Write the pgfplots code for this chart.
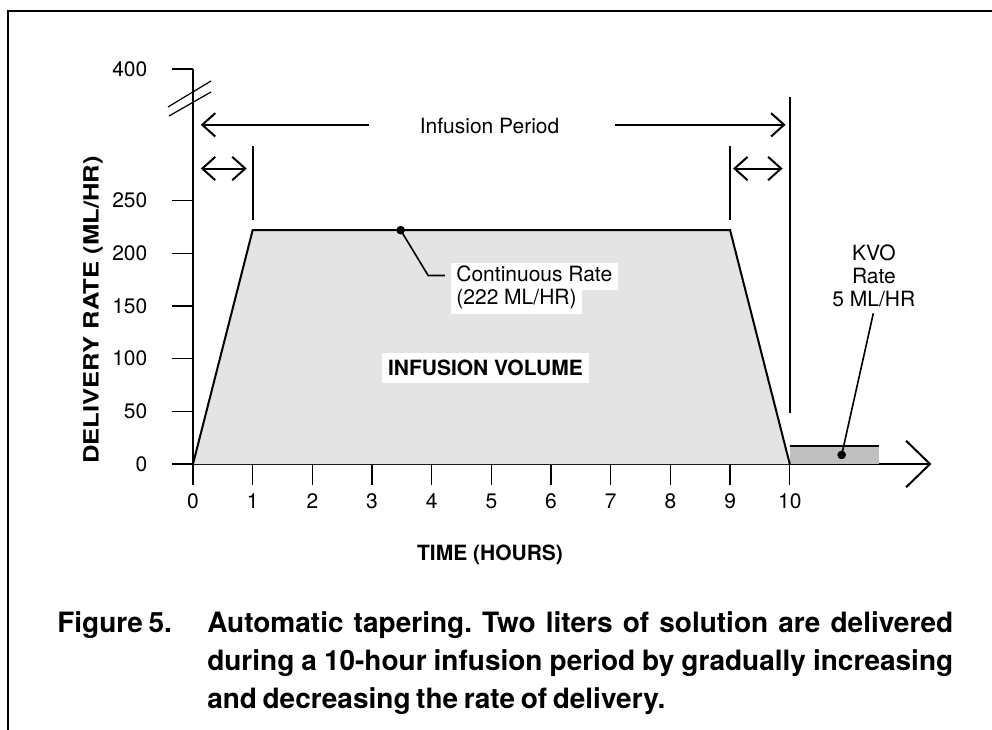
\documentclass[border=0pt]{standalone}
\usepackage{fontspec}
\setmainfont{TeX Gyre Heros}
\usepackage{pgfplots}
\pgfplotsset{compat=1.18}
\usetikzlibrary{arrows.meta}
\definecolor{vol}{RGB}{228,228,228}
\definecolor{kvo}{RGB}{192,192,192}
\newcommand\fs{\fontsize{15.75pt}{17.5pt}\selectfont}
\newcommand\capfs{\fontsize{21pt}{28.5pt}\selectfont\bfseries\frenchspacing\spaceskip=0.2em plus 1em minus 0.1em\relax}
\begin{document}
\begin{tikzpicture}
\begin{axis}[
  at={(144.75pt,-348pt)}, anchor=south west,
  scale only axis, width=552.75pt, height=296.25pt,
  xmin=0, xmax=12.35, ymin=0, ymax=375,
  axis lines=left,
  x axis line style={-, line width=2pt},
  y axis line style={-, line width=1.6pt},
  xtick={0,1,...,10}, ytick={0,50,100,150,200,250,375},
  yticklabels={0,50,100,150,200,250,400},
  tick align=outside, major tick length=15.75pt,
  tick style={black, line width=0.9pt},
  tick label style={font=\fs},
  /pgf/number format/assume math mode=true,
  yticklabel style={xshift=-15pt},
  xticklabel style={yshift=-3pt},
  clip=false,
]
% infusion volume area
\addplot[fill=vol, draw=none] coordinates {(0,0) (1,222) (9,222) (10,0)} \closedcycle;
% KVO area
\addplot[fill=kvo, draw=none] coordinates {(10,17) (11.5,17)} \closedcycle;
\addplot[black, line width=1.5pt, line join=miter] coordinates {(0,0) (1,222) (9,222) (10,0)};
\addplot[black, line width=1.5pt] coordinates {(10,17) (11.5,17)};
% vertical markers
\addplot[black, line width=1.5pt] coordinates {(1,232) (1,302)};
\addplot[black, line width=1.5pt] coordinates {(9,232) (9,302)};
\addplot[black, line width=1.5pt] coordinates {(10,48.5) (10,348)};
% x axis arrow head
\addplot[black, line width=1.5pt] coordinates {(11.95,22) (12.35,0) (11.95,-22)};
% arrows
\draw[line width=1.5pt, {Straight Barb[length=9.75pt,width=17.5pt]}-] (axis cs:0.13,322) -- (axis cs:2.95,322);
\draw[line width=1.5pt, -{Straight Barb[length=9.75pt,width=17.5pt]}] (axis cs:7.07,322) -- (axis cs:9.93,322);
\draw[line width=1.5pt, {Straight Barb[length=9.75pt,width=17.5pt]}-{Straight Barb[length=9.75pt,width=17.5pt]}] (axis cs:0.13,280.5) -- (axis cs:0.9,280.5);
\draw[line width=1.5pt, {Straight Barb[length=9.75pt,width=17.5pt]}-{Straight Barb[length=9.75pt,width=17.5pt]}] (axis cs:9.05,280.5) -- (axis cs:9.88,280.5);
\node[font=\fs] at (axis cs:4.97,321) {Infusion Period};
% continuous rate
\addplot[black, line width=1.2pt] coordinates {(3.48,222) (3.94,179) (4.22,179)};
\addplot[only marks, mark=*, mark size=3pt, black] coordinates {(3.48,222)};
\node[font=\fs, fill=white, anchor=west, inner xsep=4pt, inner ysep=3pt, text height=11pt, text depth=3.5pt] at (axis cs:4.32,177.8) {Continuous Rate};
\node[font=\fs, fill=white, anchor=west, inner xsep=4pt, inner ysep=3pt, text height=11pt, text depth=3.5pt] at (axis cs:4.32,155.7) {(222 ML/HR)};
\node[font=\fs\bfseries, fill=white, inner xsep=4.5pt, inner ysep=5pt] at (axis cs:4.9,91.1) {INFUSION VOLUME};
% KVO
\addplot[black, line width=1.2pt] coordinates {(10.87,8.6) (11.4,143)};
\addplot[only marks, mark=*, mark size=3pt, black] coordinates {(10.87,8.6)};
\node[font=\fs, align=center] at (axis cs:11.41,178.5) {KVO\\Rate\\5 ML/HR};
\end{axis}
\begin{scope}[x=0.75pt, y=-0.75pt]
\draw[line width=1.5pt] (8,745) -- (8,11) -- (1005,11);
\draw[line width=0.9pt] (168,107) -- (211,81);
\draw[line width=0.9pt] (169,116) -- (211,92);
\node[rotate=90, font=\fs\bfseries] at (93,310) {\scalebox{1.22}[1]{DELIVERY RATE (ML/HR)}};
\node[font=\fs\bfseries] at (490,555) {TIME (HOURS)};
\node[anchor=base west, inner sep=0pt] at (57,632) {\capfs Figure 5.};
\node[anchor=base west, inner sep=0pt] at (207,632) {\capfs\makebox[559.5pt][s]{Automatic tapering. Two liters of solution are delivered}};
\node[anchor=base west, inner sep=0pt] at (207,670) {\capfs\makebox[559.5pt][s]{during a 10-hour infusion period by gradually increasing}};
\node[anchor=base west, inner sep=0pt] at (207,708) {\capfs and decreasing the rate of delivery.};
\pgfresetboundingbox
\path[use as bounding box] (0,0) rectangle (992,730);
\end{scope}
\end{tikzpicture}
\end{document}
